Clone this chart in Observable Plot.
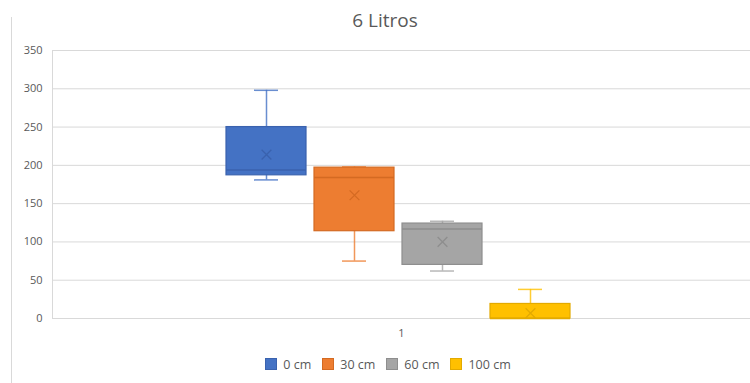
<!DOCTYPE html>
<html>
<head>
<meta charset="utf-8">
<script src="https://cdn.jsdelivr.net/npm/d3@7"></script>
<script src="https://cdn.jsdelivr.net/npm/@observablehq/plot@0.6"></script>
<style>
  html, body { margin: 0; padding: 0; background: #fff; }
  body { width: 750px; height: 383px; position: relative; overflow: hidden; font-family: "Open Sans", sans-serif; }
  #border { position: absolute; left: 11px; top: 17px; bottom: 0; width: 1px; background: #d9d9d9; }
  #title { height: 40px; line-height: 40px; padding-left: 20px; box-sizing: border-box; text-align: center; font-size: 19px; color: #595959; }
  #legend { display: flex; justify-content: center; align-items: center; padding-left: 26px; box-sizing: border-box; height: 38px; font-size: 12.5px; color: #595959; }
  .item { display: flex; align-items: center; margin: 0 5.5px; }
  .sw { width: 12px; height: 12px; margin-right: 6px; box-sizing: border-box; border: 1px solid; }
</style>
</head>
<body>
<div id="border"></div>
<div id="title"></div>
<div id="chart"></div>
<div id="legend"></div>
<script>
const title = "6 Litros";
const category = "1";
const series = ["0 cm", "30 cm", "60 cm", "100 cm"];
const minV = [181, 75, 62, 0];
const q1V = [187, 114, 70, 0];
const medianV = [194, 184, 117, 0];
const q3V = [250, 197, 124, 19];
const maxV = [298, 198, 127, 38];
const meanV = [214, 161, 100, 7];
const fills = ["#4472C4", "#ED7D31", "#A5A5A5", "#FFC000"];
const strokes = ["#3A62AE", "#D46A22", "#8E8E8E", "#E3AA00"];
const yTicks = [0, 50, 100, 150, 200, 250, 300, 350];

const rows = series.map((s, i) => ({
  s, min: minV[i], q1: q1V[i], med: medianV[i], q3: q3V[i], max: maxV[i], mean: meanV[i],
  fill: fills[i], stroke: strokes[i]
}));

document.getElementById("title").textContent = title;

const marks = [
  Plot.ruleY(yTicks, {stroke: "#d9d9d9", strokeWidth: 1}),
  Plot.frame({anchor: "left", stroke: "#d9d9d9"}),
  Plot.ruleX(rows, {x: "s", y1: "min", y2: "max", stroke: "fill", strokeWidth: 1.5, strokeOpacity: 0.8}),
  Plot.tickY(rows.filter(d => d.min < d.q1), {x: "s", y: "min", stroke: "fill", strokeWidth: 1.5, strokeOpacity: 0.8, insetLeft: 28, insetRight: 28}),
  Plot.tickY(rows, {x: "s", y: "max", stroke: "fill", strokeWidth: 1.5, strokeOpacity: 0.8, insetLeft: 28, insetRight: 28}),
  Plot.barY(rows, {x: "s", y1: "q1", y2: "q3", fill: "fill", stroke: "stroke", strokeWidth: 1.2}),
  Plot.tickY(rows, {x: "s", y: "med", stroke: "stroke", strokeWidth: 1.5}),
  Plot.dot(rows, {x: "s", y: "mean", symbol: "times", r: 4.5, stroke: "stroke", strokeWidth: 1.3}),
  Plot.text([category], {frameAnchor: "bottom", lineAnchor: "middle", dy: 15, text: d => d, fill: "#595959", fontSize: 11})
];

const chart = Plot.plot({
  width: 750,
  height: 305,
  marginLeft: 52,
  marginRight: 0,
  marginTop: 10,
  marginBottom: 27,
  style: {fontFamily: "Open Sans, sans-serif", fontSize: "11px", color: "#595959", background: "transparent"},
  x: {type: "band", domain: series, range: [218, 578], padding: 0.0909, axis: null},
  y: {domain: [0, 350], ticks: yTicks, tickSize: 0, tickPadding: 10, label: null},
  marks
});
document.getElementById("chart").appendChild(chart);

const legend = document.getElementById("legend");
series.forEach((s, i) => {
  const item = document.createElement("div");
  item.className = "item";
  const sw = document.createElement("div");
  sw.className = "sw";
  sw.style.background = fills[i];
  sw.style.borderColor = strokes[i];
  const label = document.createElement("span");
  label.textContent = s;
  item.appendChild(sw);
  item.appendChild(label);
  legend.appendChild(item);
});
</script>
</body>
</html>
